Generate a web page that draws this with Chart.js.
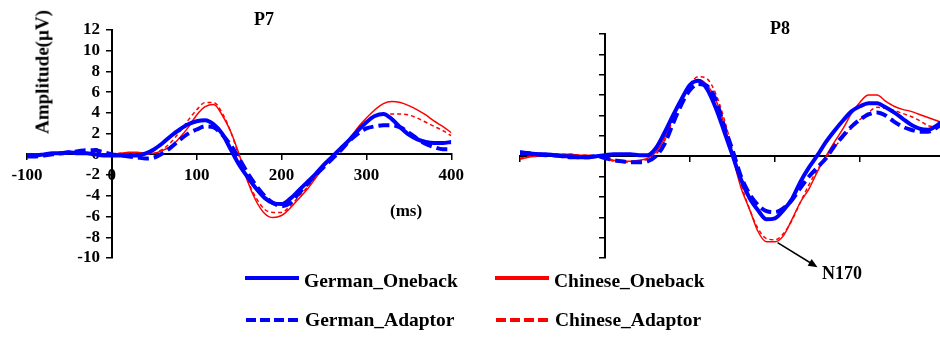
<!DOCTYPE html>
<html lang="en">
<head>
<meta charset="UTF-8" />
<title>P7 / P8 waveforms</title>
<script src="https://cdn.jsdelivr.net/npm/chart.js"></script>
<style>
  body {
    margin: 0;
    width: 940px;
    height: 338px;
    overflow: hidden;
    position: relative;
    background: #fff;
    font-family: "Liberation Serif", "Times New Roman", serif;
    font-weight: bold;
    color: #000;
  }
  canvas { position: absolute; top: 0; }
  #chartP7 { left: 0; }
  #chartP8 { left: 500px; }
  .txt { position: absolute; white-space: nowrap; line-height: 1; }
  .title { font-size: 18px; }
  #ylab { font-size: 19px; left: 42px; top: 72px; transform: translate(-50%, -50%) rotate(-90deg); }
  .leg { position: absolute; font-size: 19.5px; line-height: 1; white-space: nowrap; }
  .swatch { position: absolute; height: 4px; width: 54px; }
</style>
</head>
<body>
<canvas id="chartP7" width="470" height="275"></canvas>
<canvas id="chartP8" width="470" height="275"></canvas>

<div class="txt title" style="left:254px; top:10px;">P7</div>
<div class="txt title" style="left:770px; top:19px;">P8</div>
<div class="txt" id="ylab">Amplitude(μV)</div>
<div class="txt" style="left:390px; top:202px; font-size:17px;">(ms)</div>
<div class="txt" style="left:822px; top:264px; font-size:18px;">N170</div>

<div id="legend"></div>

<script>
  // time points (ms), one sample every 10 ms
  const times = [];
  for (let t = -100; t <= 400; t += 10) times.push(t);

  // P7 amplitudes (µV)
  const p7GermanOneback = [-0.1,-0.1,0,0.1,0.1,0.2,0.1,0.1,0,-0.1, -0.1,-0.1,-0.1,-0.1,0.1,0.5,1.1,1.8,2.4,2.9, 3.2,3.3,2.9,2.0,0.5,-1.0,-2.2,-3.3,-4.2,-4.7, -4.8,-4.3,-3.5,-2.7,-1.9,-1.0,-0.2,0.6,1.4,2.3, 3.1,3.7,3.9,3.4,2.6,1.9,1.45,1.2,1.1,1.1, 1.2];
  const p7GermanAdaptor = [-0.2,-0.2,-0.1,0,0.1,0.2,0.3,0.4,0.4,0.2, 0.0,-0.1,-0.2,-0.3,-0.4,-0.3,0.1,0.7,1.4,2.0, 2.4,2.7,2.6,1.9,0.9,-0.4,-1.8,-3.0,-4.0,-4.7, -5.0,-4.7,-3.8,-2.9,-2.0,-1.2,-0.4,0.4,1.3,2.0, 2.5,2.7,2.8,2.8,2.6,2.1,1.5,1.0,0.7,0.5, 0.5];
  const p7ChineseOneback = [0,0,0,0.1,0.1,0.1,0.1,0.1,0.1,0, 0,0.1,0.2,0.2,0.1,0.1,0.4,0.8,1.6,2.6, 3.8,4.6,4.8,3.8,2.2,0.0,-2.6,-4.5,-5.7,-6.1, -5.9,-5.2,-4.3,-3.4,-2.3,-1.2,-0.2,0.6,1.5,2.6, 3.5,4.3,4.9,5.1,5.0,4.7,4.3,3.8,3.2,2.7, 2.1];
  const p7ChineseAdaptor = [0,0,0,0.1,0.1,0.1,0.1,0.1,0,0, 0,0.1,0.1,0.1,0,0.1,0.5,1.2,2.2,3.3, 4.3,5.0,5.0,4.0,2.2,-0.2,-2.5,-4.2,-5.3,-5.6, -5.6,-5.0,-4.1,-3.2,-2.2,-1.2,-0.3,0.6,1.5,2.4, 3.2,3.7,3.9,3.9,3.9,3.8,3.5,3.1,2.7,2.3, 1.8];

  // P8 amplitudes (µV)
  const p8GermanOneback = [0.3,0.3,0.2,0.2,0.1,0.0,0.0,-0.1,-0.1,0.0, 0.1,0.2,0.2,0.2,0.1,0.1,0.8,2.3,4.0,5.6, 7.0,7.4,6.6,4.8,2.5,0.1,-2.3,-4.1,-5.3,-6.2, -6.1,-5.3,-4.2,-2.5,-1.1,0.1,1.4,2.5,3.5,4.4, 4.9,5.2,5.2,4.8,4.3,3.7,3.1,2.7,2.6,3.0, 3.6];
  const p8GermanAdaptor = [0.4,0.3,0.2,0.1,0.1,0.0,-0.1,-0.1,-0.1,0.0, -0.2,-0.4,-0.5,-0.6,-0.6,-0.5,0.0,1.2,3.2,5.1, 6.5,7.1,6.9,5.6,3.0,0.6,-2.0,-3.7,-4.8,-5.4, -5.5,-5.1,-4.3,-3.1,-2.0,-1.1,-0.2,1.0,2.0,2.9, 3.6,4.1,4.3,4.0,3.4,2.9,2.6,2.4,2.4,2.8, 3.4];
  const p8ChineseOneback = [-0.3,-0.1,0.0,0.1,0.2,0.2,0.2,0.1,0.1,0.0, -0.1,-0.4,-0.5,-0.5,-0.4,-0.2,0.4,1.8,3.8,5.6, 6.9,7.5,7.0,5.6,3.2,0.0,-3.1,-5.2,-7.4,-8.4, -8.4,-7.8,-6.2,-4.5,-3.2,-1.5,0.0,1.4,2.7,4.2, 5.3,6.0,6.0,5.4,4.9,4.6,4.4,4.1,3.8,3.5, 3.1];
  const p8ChineseAdaptor = [-0.2,0.0,0.1,0.1,0.2,0.2,0.2,0.1,0.1,0.0, -0.2,-0.5,-0.6,-0.6,-0.5,-0.3,0.2,1.5,3.6,5.6, 7.1,7.8,7.6,6.2,3.7,0.6,-2.7,-5.2,-7.1,-8.1, -8.2,-7.6,-6.3,-4.5,-2.8,-1.3,-0.1,0.9,1.8,2.8, 3.6,4.3,4.8,4.7,4.5,4.2,3.9,3.5,3.0,2.9, 3.3];

  const seriesNames = ["German_Oneback", "German_Adaptor", "Chinese_Oneback", "Chinese_Adaptor"];

  // N170 arrow, in data units of the P8 panel [ms, µV]
  const n170From = [203, -8.5];
  const n170To = [250, -10.9];

  const styles = {
    German_Oneback: { color: "#0000ff", width: 4, dash: [], order: 1 },
    German_Adaptor: { color: "#0000ff", width: 4, dash: [11, 5], order: 1 },
    Chinese_Oneback: { color: "#ff0000", width: 1.5, dash: [], order: 2 },
    Chinese_Adaptor: { color: "#ff0000", width: 1.5, dash: [4, 3], order: 2 },
  };

  const tickFont = { family: "'Liberation Serif', serif", weight: "bold", size: 17 };

  function makeDatasets(arrays) {
    return seriesNames.map((name, i) => ({
      label: name,
      data: times.map((t, j) => ({ x: t, y: arrays[i][j] })),
      borderColor: styles[name].color,
      borderWidth: styles[name].width,
      borderDash: styles[name].dash,
      order: styles[name].order,
      pointRadius: 0,
      fill: false,
      cubicInterpolationMode: "monotone",
    }));
  }

  function makeOptions(showLabels, padding) {
    return {
      responsive: false,
      animation: false,
      layout: { padding: padding },
      plugins: { legend: { display: false }, tooltip: { enabled: false } },
      scales: {
        x: {
          type: "linear",
          min: -100,
          max: 400,
          position: { y: 0 },
          border: { display: true, color: "#000", width: 2 },
          grid: { drawOnChartArea: false, drawTicks: true, tickLength: 5, color: "#000", lineWidth: 1.5 },
          ticks: {
            display: showLabels,
            stepSize: 100,
            autoSkip: false,
            maxRotation: 0,
            padding: 6,
            color: "#000",
            font: tickFont,
          },
        },
        y: {
          type: "linear",
          min: -10,
          max: 12,
          position: { x: 0 },
          border: { display: true, color: "#000", width: 2 },
          grid: { drawOnChartArea: false, drawTicks: true, tickLength: 5, color: "#000", lineWidth: 1.5 },
          ticks: {
            display: showLabels,
            stepSize: 2,
            autoSkip: false,
            color: "#000",
            font: tickFont,
            callback: (v) => v + "\u2002\u2009",
          },
        },
      },
    };
  }

  new Chart("chartP7", {
    type: "line",
    data: { datasets: makeDatasets([p7GermanOneback, p7GermanAdaptor, p7ChineseOneback, p7ChineseAdaptor]) },
    options: makeOptions(true, { left: 27, right: 18, top: 30, bottom: 17 }),
  });

  const arrowPlugin = {
    id: "n170Arrow",
    afterDraw(chart) {
      const { ctx, scales } = chart;
      const x1 = scales.x.getPixelForValue(n170From[0]);
      const y1 = scales.y.getPixelForValue(n170From[1]);
      const x2 = scales.x.getPixelForValue(n170To[0]);
      const y2 = scales.y.getPixelForValue(n170To[1]);
      const ang = Math.atan2(y2 - y1, x2 - x1);
      const head = 10;
      ctx.save();
      ctx.strokeStyle = "#000";
      ctx.fillStyle = "#000";
      ctx.lineWidth = 1.5;
      ctx.beginPath();
      ctx.moveTo(x1, y1);
      ctx.lineTo(x2 - head * 0.8 * Math.cos(ang), y2 - head * 0.8 * Math.sin(ang));
      ctx.stroke();
      ctx.beginPath();
      ctx.moveTo(x2, y2);
      ctx.lineTo(x2 - head * Math.cos(ang - 0.4), y2 - head * Math.sin(ang - 0.4));
      ctx.lineTo(x2 - head * Math.cos(ang + 0.4), y2 - head * Math.sin(ang + 0.4));
      ctx.closePath();
      ctx.fill();
      ctx.restore();
    },
  };

  new Chart("chartP8", {
    type: "line",
    data: { datasets: makeDatasets([p8GermanOneback, p8GermanAdaptor, p8ChineseOneback, p8ChineseAdaptor]) },
    options: makeOptions(false, { left: 20, right: 25, top: 34, bottom: 17 }),
    plugins: [arrowPlugin],
  });

  // legend (two rows, two columns): [swatch x, swatch y, text top]
  const legendPos = {
    German_Oneback: [245, 278, 271],
    Chinese_Oneback: [495, 278, 271],
    German_Adaptor: [246, 320, 310],
    Chinese_Adaptor: [496, 320, 310],
  };
  const legend = document.getElementById("legend");
  seriesNames.forEach((name) => {
    const [lx, ly, ty] = legendPos[name];
    const st = styles[name];
    const sw = document.createElement("div");
    sw.className = "swatch";
    sw.style.left = lx + "px";
    sw.style.top = ly - 2 + "px";
    sw.style.background = st.dash.length
      ? `repeating-linear-gradient(to right, ${st.color} 0 10px, transparent 10px 14px)`
      : st.color;
    legend.appendChild(sw);
    const tx = document.createElement("div");
    tx.className = "leg";
    tx.textContent = name;
    tx.style.left = lx + 59 + "px";
    tx.style.top = ty + "px";
    legend.appendChild(tx);
  });
</script>
</body>
</html>
